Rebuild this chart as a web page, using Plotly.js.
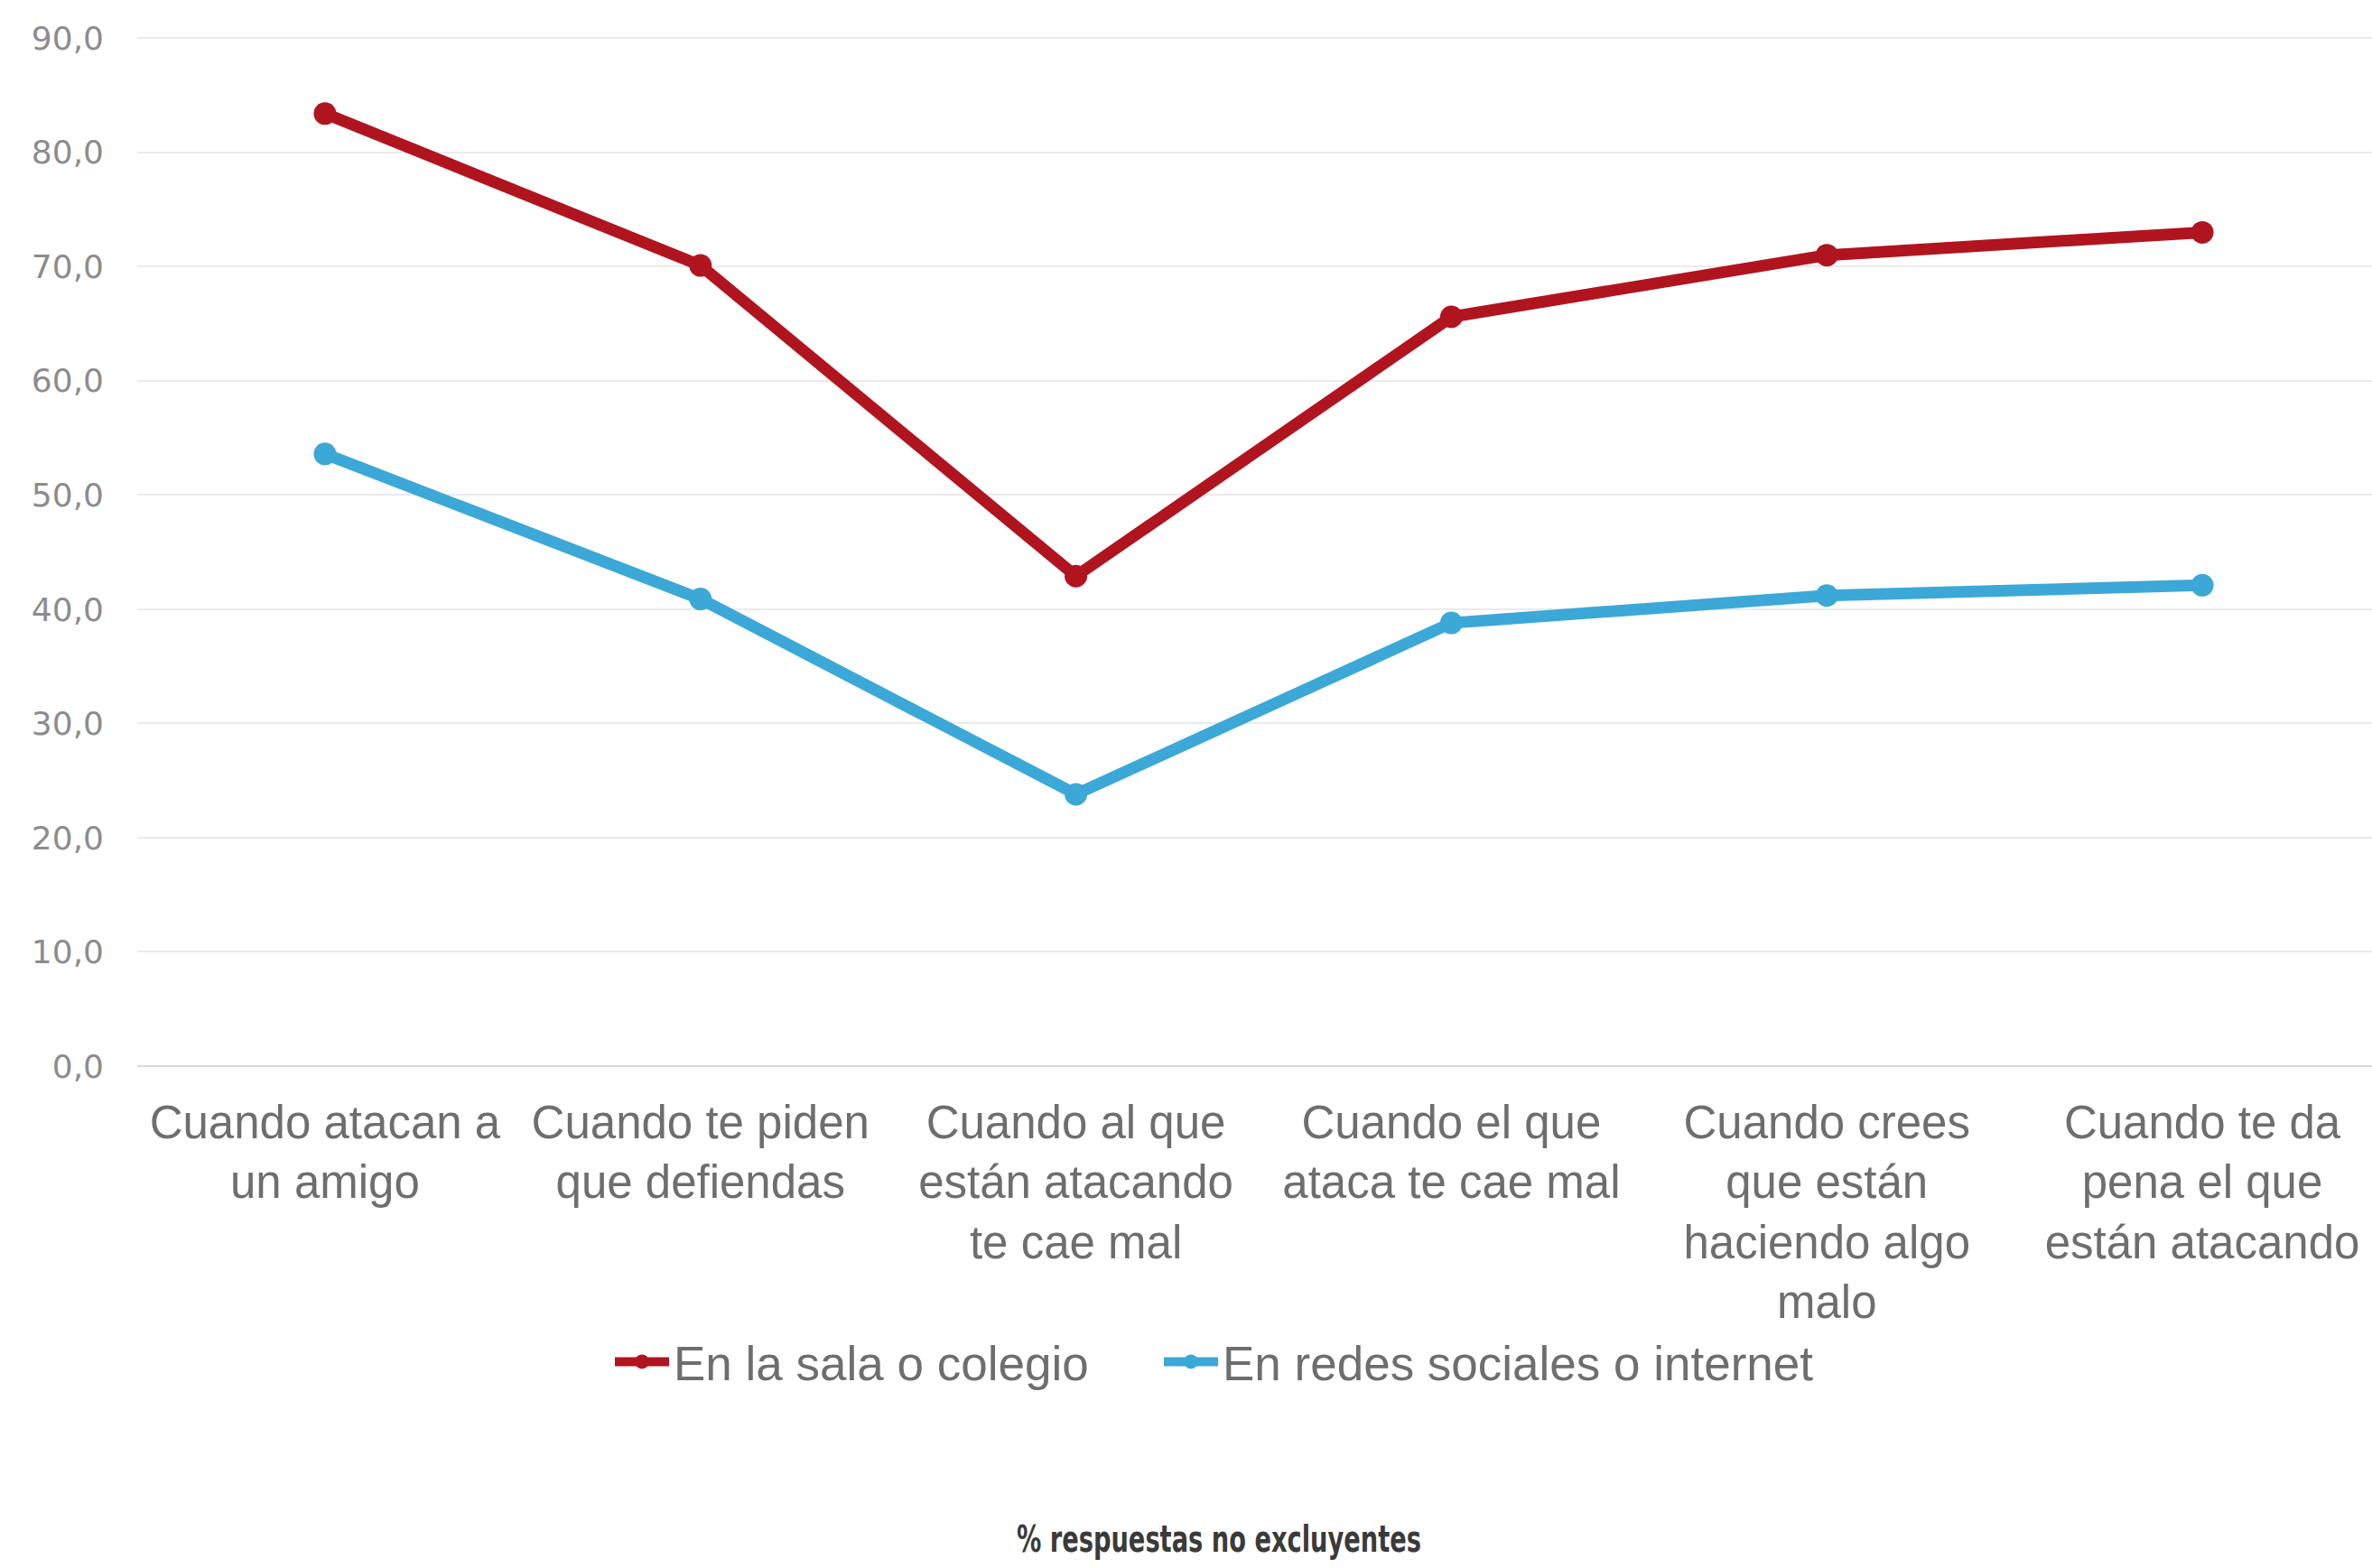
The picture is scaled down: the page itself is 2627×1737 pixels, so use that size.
<!DOCTYPE html>
<html>
<head>
<meta charset="utf-8">
<script src="https://cdn.plot.ly/plotly-3.0.1.min.js"></script>
<style>
html,body{margin:0;padding:0;background:#fff;}
#chart{width:2627px;height:1737px;}
#chart .annotation-text{transform-box:fill-box;transform-origin:center;transform:scaleX(0.74);}
</style>
</head>
<body>
<div id="chart"></div>
<script>
const categories = [
  "Cuando atacan a<br>un amigo",
  "Cuando te piden<br>que defiendas",
  "Cuando al que<br>están atacando<br>te cae mal",
  "Cuando el que<br>ataca te cae mal",
  "Cuando crees<br>que están<br>haciendo algo<br>malo",
  "Cuando te da<br>pena el que<br>están atacando"
];
const seriesNames = ["En la sala o colegio", "En redes sociales o internet"];
const salaColegio = [83.4, 70.1, 42.9, 65.6, 71.0, 73.0];
const redesInternet = [53.6, 40.9, 23.8, 38.8, 41.2, 42.1];
const yTickVals = [0, 10, 20, 30, 40, 50, 60, 70, 80, 90];
const yTickText = ["0,0", "10,0", "20,0", "30,0", "40,0", "50,0", "60,0", "70,0", "80,0", "90,0"];
const footnote = "% respuestas no excluyentes";

const colors = ["#b0151f", "#3ca8d7"];
const legendIds = ["legend", "legend2"];

const traces = [salaColegio, redesInternet].map((vals, i) => ({
  type: "scatter",
  mode: "lines+markers",
  name: seriesNames[i],
  legend: legendIds[i],
  x: categories,
  y: vals,
  line: {color: colors[i], width: 13},
  marker: {color: colors[i], size: 25},
  cliponaxis: false
}));

const legendFont = {family: "Liberation Sans, Arial, sans-serif", size: 53, color: "#6e6e6e"};

const layout = {
  width: 2627,
  height: 1737,
  margin: {l: 152, r: 0, t: 36, b: 556},
  paper_bgcolor: "#ffffff",
  plot_bgcolor: "#ffffff",
  showlegend: true,
  xaxis: {
    type: "category",
    range: [-0.5, 5.452],
    showgrid: false,
    zeroline: false,
    showline: false,
    ticks: "",
    ticklabelstandoff: 28,
    tickfont: {family: "Liberation Sans, Arial, sans-serif", size: 51, color: "#6e6e6e"}
  },
  yaxis: {
    range: [0, 90.5],
    tickvals: yTickVals,
    ticktext: yTickText,
    showgrid: true,
    gridcolor: "#ebebeb",
    gridwidth: 2,
    zeroline: true,
    zerolinecolor: "#d9d9d9",
    zerolinewidth: 2,
    showline: false,
    ticks: "",
    ticklabelstandoff: 36,
    tickfont: {family: "DejaVu Sans, Verdana, sans-serif", size: 36, color: "#8c8c8c"}
  },
  legend: {
    orientation: "h",
    x: (676 - 152) / 2475,
    xanchor: "left",
    y: -0.286,
    yanchor: "middle",
    itemwidth: 60,
    font: legendFont,
    bgcolor: "rgba(0,0,0,0)"
  },
  legend2: {
    orientation: "h",
    x: (1284 - 152) / 2475,
    xanchor: "left",
    y: -0.286,
    yanchor: "middle",
    itemwidth: 60,
    font: legendFont,
    bgcolor: "rgba(0,0,0,0)"
  },
  annotations: [{
    text: footnote,
    xref: "paper", yref: "paper",
    x: 0.484, y: -0.458,
    xanchor: "center", yanchor: "middle",
    showarrow: false,
    font: {family: "DejaVu Sans Condensed, DejaVu Sans, sans-serif", size: 41, color: "#3a3a3a", weight: "bold"}
  }]
};

Plotly.newPlot("chart", traces, layout, {displayModeBar: false, staticPlot: true});
</script>
</body>
</html>
